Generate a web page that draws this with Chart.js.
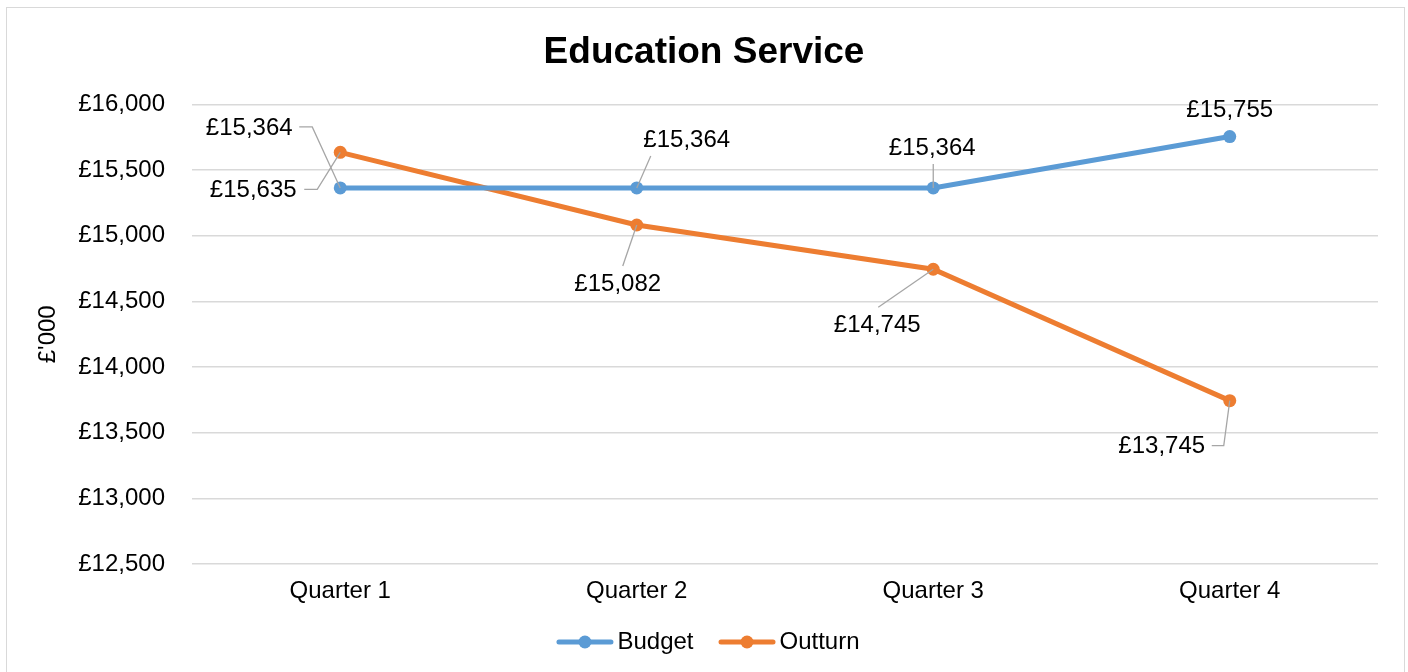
<!DOCTYPE html>
<html>
<head>
<meta charset="utf-8">
<script src="https://cdn.jsdelivr.net/npm/chart.js@4.4.1/dist/chart.umd.min.js"></script>
<style>
  html, body { margin: 0; padding: 0; background: #fff; }
  #wrap { position: relative; width: 1408px; height: 672px; }
</style>
</head>
<body>
<div id="wrap"><canvas id="c" width="1408" height="672"></canvas></div>
<script>
// ---- data ----
const categories = ['Quarter 1', 'Quarter 2', 'Quarter 3', 'Quarter 4'];
const budget = [15364, 15364, 15364, 15755];
const outturn = [15635, 15082, 14745, 13745];
const yMin = 12500, yMax = 16000, yStep = 500;
const chartTitle = 'Education Service';
const yTitle = "£'000";

// ---- label layout (pixel offsets from each point, with leader paths) ----
const labelLayout = [
  [ // Budget
    { dx: -91, dy: -60, leader: [[-41, -61], [-28, -61], [0, 0]] },
    { dx: 50, dy: -48, leader: [[14, -32], [0, 0]] },
    { dx: -1, dy: -40, leader: [[0, -24], [0, 0]] },
    { dx: 0, dy: -26, leader: null }
  ],
  [ // Outturn
    { dx: -87, dy: 38, leader: [[-36, 37], [-23, 37], [0, 0]] },
    { dx: -19, dy: 59, leader: [[-14, 41], [0, 0]] },
    { dx: -56, dy: 56, leader: [[-55, 38], [0, 0]] },
    { dx: -68, dy: 46, leader: [[-18, 45], [-6, 45], [0, 0]] }
  ]
];

const FONT = "'Liberation Sans', Arial, sans-serif";
const BLUE = '#5B9BD5', ORANGE = '#ED7D31';
const fmt = v => '£' + v.toLocaleString('en-GB');

const borderPlugin = {
  id: 'border',
  beforeDraw(chart) {
    const ctx = chart.ctx;
    ctx.save();
    ctx.strokeStyle = '#d9d9d9';
    ctx.lineWidth = 1;
    ctx.strokeRect(6.5, 7.5, 1398, 700);
    ctx.restore();
  }
};

// legend drawn with line + marker icons, like the original
const legendPlugin = {
  id: 'lineLegend',
  afterDraw(chart) {
    const ctx = chart.ctx;
    const iconW = 57, gapText = 4, gapItem = 25, cy = 642;
    ctx.save();
    ctx.font = '24px ' + FONT;
    const items = chart.data.datasets.map(ds => ({
      label: ds.label, color: ds.borderColor, w: ctx.measureText(ds.label).width
    }));
    let total = 0;
    items.forEach((it, i) => { total += iconW + gapText + it.w + (i < items.length - 1 ? gapItem : 0); });
    let x = chart.width / 2 + 4 - total / 2;
    items.forEach(it => {
      ctx.strokeStyle = it.color; ctx.lineWidth = 5; ctx.lineCap = 'round';
      ctx.beginPath(); ctx.moveTo(x + 2.5, cy); ctx.lineTo(x + iconW - 2.5, cy); ctx.stroke();
      ctx.fillStyle = it.color;
      ctx.beginPath(); ctx.arc(x + iconW / 2, cy, 6.5, 0, Math.PI * 2); ctx.fill();
      x += iconW + gapText;
      ctx.fillStyle = '#000';
      ctx.textAlign = 'left'; ctx.textBaseline = 'middle';
      ctx.fillText(it.label, x, cy);
      x += it.w + gapItem;
    });
    ctx.restore();
  }
};

const labelPlugin = {
  id: 'pointLabels',
  afterDatasetsDraw(chart) {
    const ctx = chart.ctx;
    ctx.save();
    chart.data.datasets.forEach((ds, di) => {
      const meta = chart.getDatasetMeta(di);
      meta.data.forEach((pt, i) => {
        const L = labelLayout[di][i];
        if (L.leader) {
          ctx.strokeStyle = '#a6a6a6';
          ctx.lineWidth = 1.3;
          ctx.beginPath();
          L.leader.forEach((p, k) => {
            const px = pt.x + p[0], py = pt.y + p[1];
            if (k === 0) ctx.moveTo(px, py); else ctx.lineTo(px, py);
          });
          ctx.stroke();
        }
        ctx.fillStyle = '#000';
        ctx.font = '24px ' + FONT;
        ctx.textAlign = 'center';
        ctx.textBaseline = 'middle';
        ctx.fillText(fmt(ds.data[i]), pt.x + L.dx, pt.y + L.dy);
      });
    });
    ctx.restore();
  }
};

new Chart(document.getElementById('c'), {
  type: 'line',
  data: {
    labels: categories,
    datasets: [
      { label: 'Budget', data: budget, borderColor: BLUE, backgroundColor: BLUE,
        borderWidth: 5, pointRadius: 6.5, pointBackgroundColor: BLUE, pointBorderWidth: 0,
        pointStyle: 'circle', tension: 0 },
      { label: 'Outturn', data: outturn, borderColor: ORANGE, backgroundColor: ORANGE,
        borderWidth: 5, pointRadius: 6.5, pointBackgroundColor: ORANGE, pointBorderWidth: 0,
        pointStyle: 'circle', tension: 0 }
    ]
  },
  options: {
    responsive: false,
    animation: false,
    devicePixelRatio: 1,
    layout: { padding: { left: 30, right: 30, top: 14, bottom: 53 } },
    plugins: {
      title: {
        display: true, text: chartTitle, color: '#000',
        font: { family: FONT, size: 37, weight: 'bold' },
        padding: { top: 17, bottom: 29 }
      },
      legend: { display: false },
      tooltip: { enabled: false }
    },
    scales: {
      x: {
        offset: true,
        grid: { display: false, drawTicks: false },
        border: { display: false },
        ticks: { color: '#000', font: { family: FONT, size: 24 }, padding: 13 }
      },
      y: {
        min: yMin, max: yMax,
        afterFit(scale) { scale.width = 162; },
        grid: { color: '#d9d9d9', lineWidth: 1.5, drawTicks: false },
        border: { display: false },
        ticks: {
          stepSize: yStep, color: '#000', padding: 27,
          font: { family: FONT, size: 24 },
          callback: v => fmt(v)
        },
        title: {
          display: true, text: yTitle, color: '#000',
          font: { family: FONT, size: 24 }, padding: { top: 4, bottom: 4 }
        }
      }
    }
  },
  plugins: [borderPlugin, labelPlugin, legendPlugin]
});
</script>
</body>
</html>
